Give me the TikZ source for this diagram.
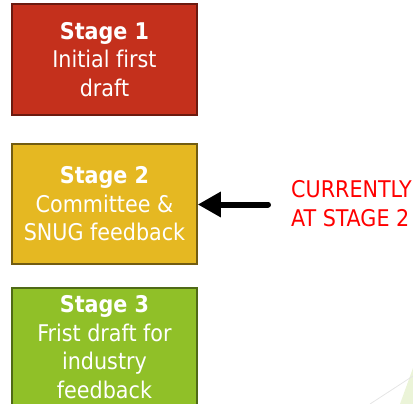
\documentclass[tikz,border=0pt]{standalone}
\usepackage{fontspec}
\setmainfont[Ligatures=CommonOff]{DejaVu Sans Condensed}
\usetikzlibrary{arrows.meta}

\definecolor{stagered}{RGB}{196,48,28}
\definecolor{stageyellow}{RGB}{229,184,34}
\definecolor{stagegreen}{RGB}{144,192,40}

\begin{document}
\begin{tikzpicture}[x=1pt, y=-1pt]

%-------------------------------------------------
% Styles
%-------------------------------------------------
\tikzset{
  stagebox/.style={draw, line width=1.5pt, text=white, align=center,
    minimum width=185pt, inner sep=0pt, font=\fontsize{23}{28.5}\selectfont},
  redstage/.style={stagebox, fill=stagered, draw=stagered!55!black, minimum height=111pt},
  yellowstage/.style={stagebox, fill=stageyellow, draw=stageyellow!50!black, minimum height=120pt},
  greenstage/.style={stagebox, fill=stagegreen, draw=stagegreen!55!black, minimum height=118pt},
  pointer/.style={line width=6pt, line cap=round, -{Triangle[length=23pt,width=24pt]}},
  status/.style={text=red, align=left, inner sep=0pt, font=\fontsize{23}{29}\selectfont}
}

% Page frame
\useasboundingbox (0,0) rectangle (413,404);

% Faint slide background corner
\fill[stagegreen!18] (400,404) -- (413,368) -- (413,404) -- cycle;
\draw[gray!20, line width=0.8pt] (370,404) -- (413,376);

%-------------------------------------------------
% Stages
%-------------------------------------------------
\node[redstage] (stage1) at (104.5,59.5) {\textbf{Stage 1}\\Initial first\\draft};
\node[yellowstage] (stage2) at (104.5,204) {\textbf{Stage 2}\\Committee \&\\SNUG feedback};
\node[greenstage] (stage3) at (104.5,347) {\textbf{Stage 3}\\Frist draft for\\industry\\feedback};

%-------------------------------------------------
% Current status
%-------------------------------------------------
\node[status, anchor=west] (current) at (291,203.5) {CURRENTLY\\AT STAGE 2};
\coordinate (tail) at (268,204.5);
\draw[pointer] (tail) -- (stage2.east |- tail);

\end{tikzpicture}
\end{document}
